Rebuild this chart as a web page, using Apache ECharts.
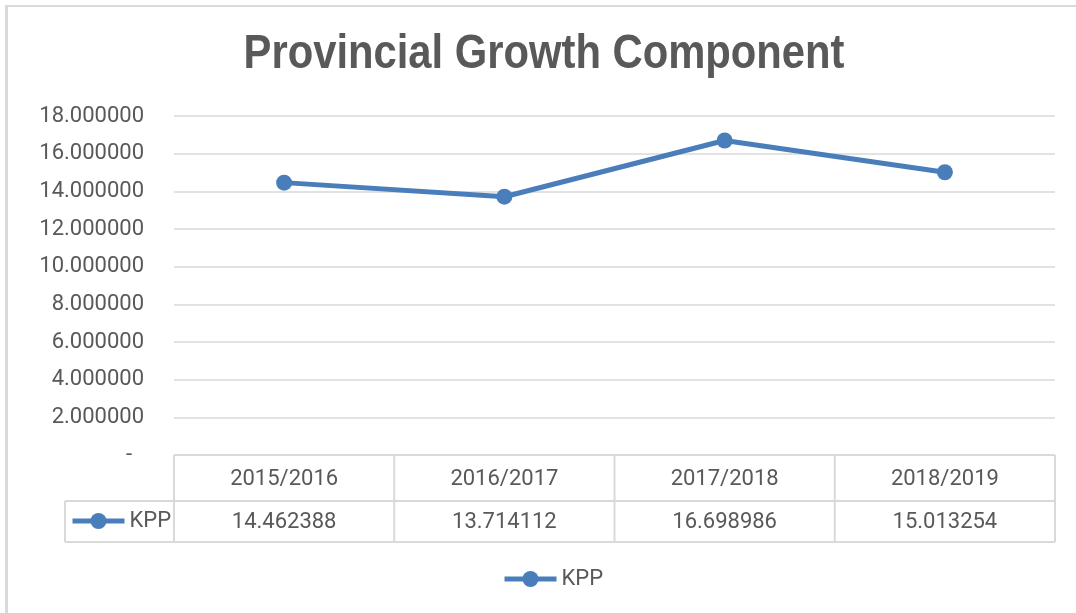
<!DOCTYPE html>
<html>
<head>
<meta charset="utf-8">
<script src="https://cdn.jsdelivr.net/npm/echarts@6/dist/echarts.min.js"></script>
<style>
  html, body { margin: 0; padding: 0; background: #fff; }
  #chart { width: 1076px; height: 613px; }
</style>
</head>
<body>
<div id="chart"></div>
<script>
const categories = ['2015/2016', '2016/2017', '2017/2018', '2018/2019'];
const kppValues = [14.462388, 13.714112, 16.698986, 15.013254];
const seriesName = 'KPP';
const titleText = 'Provincial Growth Component';

const TEXT = '#595959';
const BORDER = '#d9d9d9';
const BLUE = '#4a7ebb';
const FONT = 'Roboto, "Liberation Sans", sans-serif';

const gridLeft = 174, gridRight = 1055, gridTop = 116, gridBottom = 455;
const headerBottom = 501, tableBottom = 542, keyLeft = 65;

const chart = echarts.init(document.getElementById('chart'));

// data table under the plot + title + frame, drawn as graphic elements
function extraGraphics() {
  const items = [];
  const lineStyle = {stroke: BORDER, lineWidth: 2};
  const colW = (gridRight - gridLeft) / categories.length;
  const hline = (x1, x2, y) => items.push({type: 'line', shape: {x1, y1: y, x2, y2: y}, style: lineStyle, silent: true});
  const vline = (x, y1, y2) => items.push({type: 'line', shape: {x1: x, y1, x2: x, y2}, style: lineStyle, silent: true});

  hline(gridLeft, gridRight, gridBottom);
  hline(keyLeft, gridRight, headerBottom);
  hline(keyLeft, gridRight, tableBottom);
  vline(keyLeft, headerBottom, tableBottom);
  for (let i = 0; i <= categories.length; i++) {
    vline(gridLeft + i * colW, gridBottom, tableBottom);
  }
  categories.forEach((c, i) => {
    const cx = gridLeft + (i + 0.5) * colW;
    items.push({type: 'text', x: cx, y: (gridBottom + headerBottom) / 2 + 1, silent: true,
      style: {text: c, fill: TEXT, font: '22px ' + FONT, align: 'center', verticalAlign: 'middle'}});
    items.push({type: 'text', x: cx, y: (headerBottom + tableBottom) / 2 + 1, silent: true,
      style: {text: kppValues[i].toFixed(6), fill: TEXT, font: '22px ' + FONT, align: 'center', verticalAlign: 'middle'}});
  });

  // narrow bold title (Arial Narrow look = Arial squeezed horizontally)
  items.push({type: 'text', x: 544, y: 55, scaleX: 0.87, silent: true,
    style: {text: titleText, fill: TEXT, font: 'bold 48px "Liberation Sans", Arial, sans-serif',
      align: 'center', verticalAlign: 'middle'}});

  // outer frame of the chart area (left and top edges)
  items.push({type: 'line', shape: {x1: 6.5, y1: 5, x2: 6.5, y2: 613}, style: {stroke: BORDER, lineWidth: 3}, silent: true});
  items.push({type: 'line', shape: {x1: 5, y1: 6, x2: 1076, y2: 6}, style: {stroke: BORDER, lineWidth: 2}, silent: true});
  return items;
}

const legendBase = {
  data: [seriesName],
  padding: 0,
  itemWidth: 52,
  itemHeight: 20,
  lineStyle: {width: 5},
  textStyle: {color: TEXT, fontSize: 22, fontFamily: FONT}
};

const option = {
  backgroundColor: '#fff',
  legend: [
    Object.assign({left: 70, top: 510}, legendBase),
    Object.assign({left: 502, top: 568}, legendBase)
  ],
  grid: {
    left: gridLeft,
    right: 1076 - gridRight,
    top: gridTop,
    bottom: 613 - gridBottom,
    containLabel: false
  },
  xAxis: {
    type: 'category',
    data: categories,
    boundaryGap: true,
    axisLine: {show: false},
    axisTick: {show: false},
    axisLabel: {show: false},
    splitLine: {show: false}
  },
  yAxis: {
    type: 'value',
    min: 0,
    max: 18,
    interval: 2,
    axisLine: {show: false},
    axisTick: {show: false},
    axisLabel: {
      color: TEXT,
      fontSize: 22,
      fontFamily: FONT,
      margin: 30,
      formatter: v => v === 0 ? '{dash|-}' : v.toFixed(6),
      rich: {dash: {color: TEXT, fontSize: 22, fontFamily: FONT, padding: [0, 12, 0, 0]}}
    },
    splitLine: {lineStyle: {color: BORDER, width: 1.5}}
  },
  series: [
    {
      name: seriesName,
      type: 'line',
      data: kppValues,
      symbol: 'circle',
      symbolSize: 16,
      lineStyle: {color: BLUE, width: 5},
      itemStyle: {color: BLUE},
      z: 5
    }
  ],
  graphic: extraGraphics(),
  animation: false
};

chart.setOption(option);
</script>
</body>
</html>
